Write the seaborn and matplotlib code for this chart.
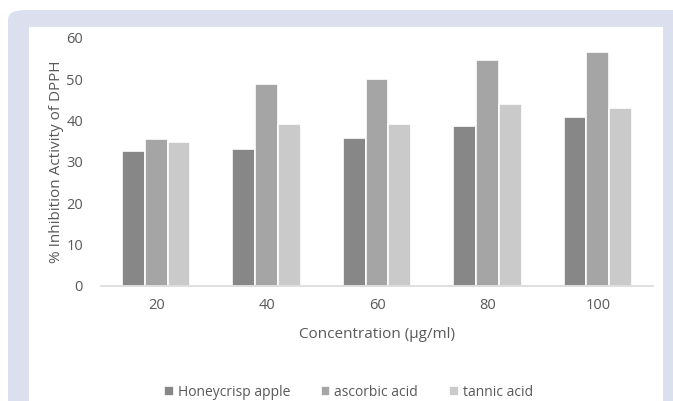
import numpy as np
import pandas as pd
import matplotlib.pyplot as plt
import seaborn as sns
from matplotlib.patches import FancyBboxPatch, Rectangle

# values
concentrations = ["20", "40", "60", "80", "100"]
honeycrisp = [32.7, 33.0, 35.8, 38.7, 40.8]
ascorbic = [35.5, 48.8, 50.0, 54.7, 56.7]
tannic = [34.9, 39.2, 39.2, 44.0, 43.1]
series_names = ["Honeycrisp apple", "ascorbic acid", "tannic acid"]
y_ticks = [0, 10, 20, 30, 40, 50, 60]

df = pd.DataFrame({
    "conc": concentrations * 3,
    "value": honeycrisp + ascorbic + tannic,
    "series": np.repeat(series_names, len(concentrations)),
})

sns.set_theme(style="white")
plt.rcParams['font.family'] = ['Open Sans', 'DejaVu Sans']
text_col = "#595959"
colors = ["#878787", "#a5a5a5", "#cacaca"]

fig = plt.figure(figsize=(6.73, 4.01), dpi=100)
fig.patch.set_facecolor("white")

# lavender frame with white panel
W, H = 673, 401
frame = FancyBboxPatch((8 / W, -0.1), 2, (H - 10) / H + 0.1,
                       boxstyle="round,pad=0,rounding_size=0.025",
                       transform=fig.transFigure, facecolor="#dcdfee",
                       edgecolor="none", zorder=-2)
fig.patches.append(frame)
panel = Rectangle((29 / W, -0.1), (663 - 29) / W, (H - 27) / H + 0.1,
                  transform=fig.transFigure, facecolor="white",
                  edgecolor="none", zorder=-1)
fig.patches.append(panel)

ax = fig.add_axes([101 / W, 1 - 285.7 / H, (653 - 101) / W, (285.7 - 37.9) / H])
ax.patch.set_alpha(0)

sns.barplot(data=df, x="conc", y="value", hue="series", ax=ax,
            palette=colors, width=0.62, gap=0, edgecolor="white",
            linewidth=1.2, saturation=1)

ax.set_ylim(0, 60)
ax.set_yticks(y_ticks)
ax.set_yticklabels([str(t) for t in y_ticks], fontsize=10.5, color=text_col)
ax.tick_params(axis='y', length=0, pad=13)
ax.tick_params(axis='x', length=0, pad=9, labelsize=10.5, labelcolor=text_col)
for s in ["top", "right", "left"]:
    ax.spines[s].set_visible(False)
ax.spines["bottom"].set_color("#d9d9d9")
ax.spines["bottom"].set_linewidth(1.2)

ax.set_ylabel("% Inhibition Activity of DPPH", fontsize=11, color=text_col, labelpad=1.5)
ax.set_xlabel("Concentration (\u00b5g/ml)", fontsize=11, color=text_col, labelpad=10)

ax.legend(loc="center", bbox_to_anchor=(0.448, -0.43), ncol=3, frameon=False,
          fontsize=10, labelcolor=text_col, handlelength=0.7, handleheight=0.7,
          handletextpad=0.3, columnspacing=2.2)

fig.savefig("out.png", dpi=100)
